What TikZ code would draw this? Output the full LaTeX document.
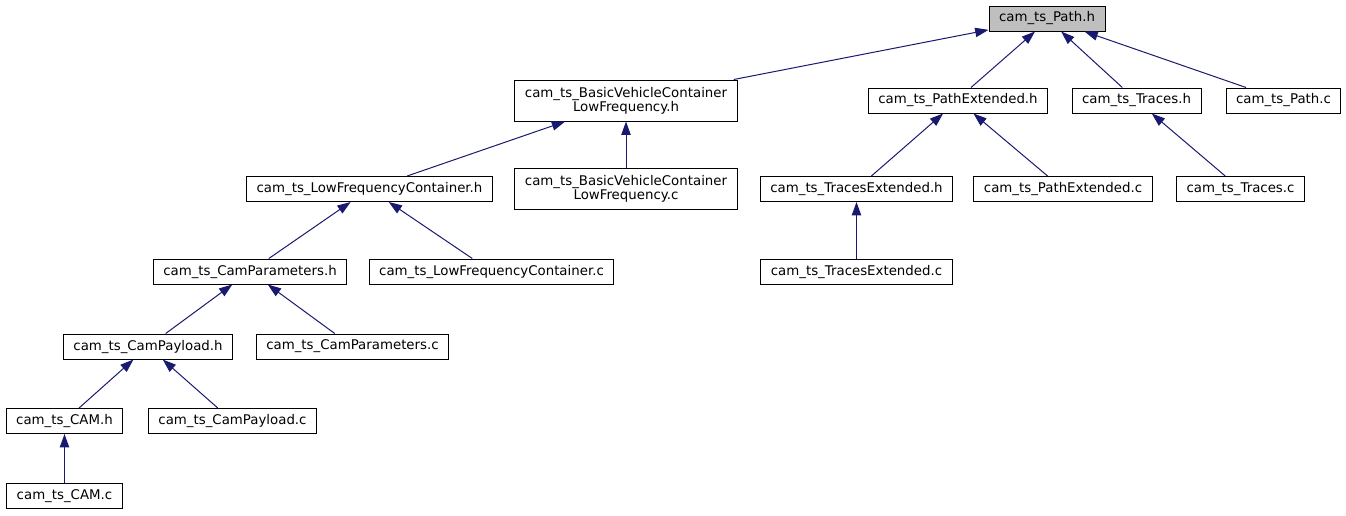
\documentclass[tikz,border=0pt]{standalone}
\usepackage{fontspec}
\setmainfont{DejaVu Sans}
\usetikzlibrary{arrows.meta, positioning, calc}
\definecolor{midnight}{HTML}{191970}

\begin{document}
\begin{tikzpicture}[x=0.75pt, y=-0.75pt,
		file/.style={rectangle, draw=black, fill=white, line width=0.75pt, inner xsep=7.5pt, inner ysep=2pt, minimum height=18.75pt, align=center, font=\fontsize{10}{10.5}\selectfont},
		root/.style={file, fill=black!25},
		twoline/.style={minimum height=30.75pt},
		arrow/.style={-{Triangle[length=10pt, width=7pt]}, draw=midnight, line width=0.75pt}
		]
		\useasboundingbox (0,0) rectangle (1346,515);
		
		% rank 0
		\node[root] (path_h) at (1047,18.5) {cam\_ts\_Path.h};
		% rank 1
		\node[file, twoline] (basic_h) at (626,100.5) {cam\_ts\_BasicVehicleContainer\\LowFrequency.h};
		\node[file] (pathext_h) at (958,100.5) {cam\_ts\_PathExtended.h};
		\node[file] (traces_h) at (1136.5,100.5) {cam\_ts\_Traces.h};
		\node[file] (path_c) at (1283.5,100.5) {cam\_ts\_Path.c};
		% rank 2
		\node[file] (lowfreq_h) at (369.5,189) {cam\_ts\_LowFrequencyContainer.h};
		\node[file, twoline] (basic_c) at (626,189) {cam\_ts\_BasicVehicleContainer\\LowFrequency.c};
		\node[file] (tracesext_h) at (856.5,189) {cam\_ts\_TracesExtended.h};
		\node[file] (pathext_c) at (1063,189) {cam\_ts\_PathExtended.c};
		\node[file] (traces_c) at (1240.5,189) {cam\_ts\_Traces.c};
		% rank 3
		\node[file] (camparam_h) at (250,271.5) {cam\_ts\_CamParameters.h};
		\node[file] (lowfreq_c) at (491.5,271.5) {cam\_ts\_LowFrequencyContainer.c};
		\node[file] (tracesext_c) at (856.5,271.5) {cam\_ts\_TracesExtended.c};
		% rank 4
		\node[file] (campayload_h) at (148,346.5) {cam\_ts\_CamPayload.h};
		\node[file] (camparam_c) at (352.5,346.5) {cam\_ts\_CamParameters.c};
		% rank 5
		\node[file] (cam_h) at (64.5,421) {cam\_ts\_CAM.h};
		\node[file] (campayload_c) at (232.5,421) {cam\_ts\_CamPayload.c};
		% rank 6
		\node[file] (cam_c) at (64.5,496) {cam\_ts\_CAM.c};
		
		\draw[arrow] (basic_h) -- (path_h);
		\draw[arrow] ($(pathext_h.north)+(13,0)$) -- ($(path_h.south)+(-12,0)$);
		\draw[arrow] (traces_h) -- (path_h);
		\draw[arrow] (path_c) -- (path_h);
		
		\draw[arrow] (lowfreq_h) -- (basic_h);
		\draw[arrow] (basic_c) -- (basic_h);
		\draw[arrow] (tracesext_h) -- (pathext_h);
		\draw[arrow] (pathext_c) -- (pathext_h);
		\draw[arrow] (traces_c) -- (traces_h);
		
		\draw[arrow] (camparam_h) -- (lowfreq_h);
		\draw[arrow] (lowfreq_c) -- (lowfreq_h);
		\draw[arrow] (tracesext_c) -- (tracesext_h);
		
		\draw[arrow] (campayload_h) -- (camparam_h);
		\draw[arrow] (camparam_c) -- (camparam_h);
		
		\draw[arrow] (cam_h) -- (campayload_h);
		\draw[arrow] (campayload_c) -- (campayload_h);
		\draw[arrow] (cam_c) -- (cam_h);
		
	\end{tikzpicture}
\end{document}
